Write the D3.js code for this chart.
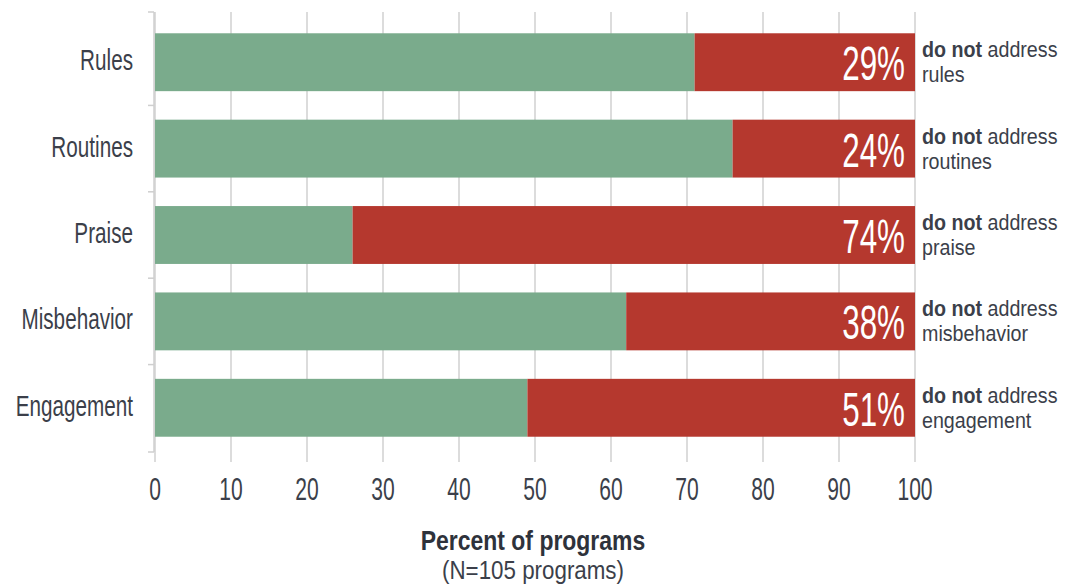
<!DOCTYPE html>
<html>
<head>
<meta charset="utf-8">
<script src="https://cdn.jsdelivr.net/npm/d3@7"></script>
<style>
  html, body { margin: 0; padding: 0; background: #fff; }
  svg { display: block; font-family: "Liberation Sans", Arial, sans-serif; }
</style>
</head>
<body>
<svg id="chart" width="1067" height="587"></svg>
<script>
// Share of programs that address / do not address each practice (percent)
const categories = ["Rules", "Routines", "Praise", "Misbehavior", "Engagement"];
const addressPct = [71, 76, 26, 62, 49];
const notAddressPct = [29, 24, 74, 38, 51];
const xTicks = [0, 10, 20, 30, 40, 50, 60, 70, 80, 90, 100];
const axisTitle = "Percent of programs";
const axisSubtitle = "(N=105 programs)";

const greenColor = "#7aab8c";
const redColor = "#b5382e";
const inkColor = "#3b3f4a";
const gridColor = "#dcdcdc";

const svg = d3.select("#chart");

const x = d3.scaleLinear().domain([0, 100]).range([155, 915]);
const y = d3.scaleBand().domain(categories).range([16, 454])
  .paddingInner(0.33).paddingOuter(0.2);

const rows = categories.map((c, i) => ({
  cat: c, yes: addressPct[i], no: notAddressPct[i]
}));

// Condensed text: a regular face squeezed horizontally around its anchor
function squeezed(sel, px, py, sx) {
  const g = sel.append("g").attr("transform", `translate(${px},${py})`);
  return g.append("text").attr("transform", `scale(${sx},1)`);
}

// Vertical gridlines
svg.append("g").selectAll("line").data(xTicks).join("line")
  .attr("x1", d => x(d)).attr("x2", d => x(d))
  .attr("y1", 12).attr("y2", 462)
  .attr("stroke", gridColor).attr("stroke-width", 2);

// Category axis line with ticks at band boundaries
const step = y.step();
const bounds = [12].concat(categories.map(c => y(c) + y.bandwidth() + (step - y.bandwidth()) / 2));
bounds[bounds.length - 1] = 452;
const yAxisG = svg.append("g");
yAxisG.append("line")
  .attr("x1", x(0) - 1).attr("x2", x(0) - 1)
  .attr("y1", 12).attr("y2", 452)
  .attr("stroke", "#cfcfcf").attr("stroke-width", 1.5);
yAxisG.selectAll("line.tk").data(bounds).join("line").attr("class", "tk")
  .attr("x1", x(0) - 7).attr("x2", x(0) - 1)
  .attr("y1", d => d).attr("y2", d => d)
  .attr("stroke", "#cfcfcf").attr("stroke-width", 1.5);

// Bars: address (green) then do-not-address (red)
const barG = svg.append("g");
barG.selectAll("rect.yes").data(rows).join("rect").attr("class", "yes")
  .attr("x", x(0)).attr("y", d => y(d.cat))
  .attr("width", d => x(d.yes) - x(0)).attr("height", y.bandwidth())
  .attr("fill", greenColor);
barG.selectAll("rect.no").data(rows).join("rect").attr("class", "no")
  .attr("x", d => x(d.yes)).attr("y", d => y(d.cat))
  .attr("width", d => x(d.yes + d.no) - x(d.yes)).attr("height", y.bandwidth())
  .attr("fill", redColor);

// Percent labels inside the red segments
rows.forEach(d => {
  squeezed(svg, x(100) - 10, y(d.cat) + y.bandwidth() / 2 + 18, 0.64)
    .attr("text-anchor", "end")
    .attr("font-size", 49)
    .attr("fill", "#ffffff")
    .text(d.no + "%");
});

// Category labels
rows.forEach(d => {
  squeezed(svg, 133, y(d.cat) + y.bandwidth() / 2 + 8, 0.69)
    .attr("text-anchor", "end")
    .attr("font-size", 30)
    .attr("fill", inkColor)
    .text(d.cat);
});

// Right-side notes, two lines each
rows.forEach(d => {
  const cy = y(d.cat) + y.bandwidth() / 2;
  const t = squeezed(svg, 922, cy - 5, 0.915)
    .attr("font-size", 21.5).attr("fill", inkColor);
  t.append("tspan").attr("font-weight", "bold").text("do not");
  t.append("tspan").text(" address");
  squeezed(svg, 922, cy + 20, 0.915)
    .attr("font-size", 21.5).attr("fill", inkColor)
    .text(d.cat.toLowerCase());
});

// X tick labels
xTicks.forEach(v => {
  squeezed(svg, x(v), 500, 0.68)
    .attr("text-anchor", "middle")
    .attr("font-size", 31)
    .attr("fill", inkColor)
    .text(v);
});

// Axis title
squeezed(svg, 533, 550, 0.82)
  .attr("text-anchor", "middle")
  .attr("font-size", 28).attr("font-weight", "bold")
  .attr("fill", "#2e323b")
  .text(axisTitle);
squeezed(svg, 533, 579, 0.86)
  .attr("text-anchor", "middle")
  .attr("font-size", 26)
  .attr("fill", inkColor)
  .text(axisSubtitle);
</script>
</body>
</html>
